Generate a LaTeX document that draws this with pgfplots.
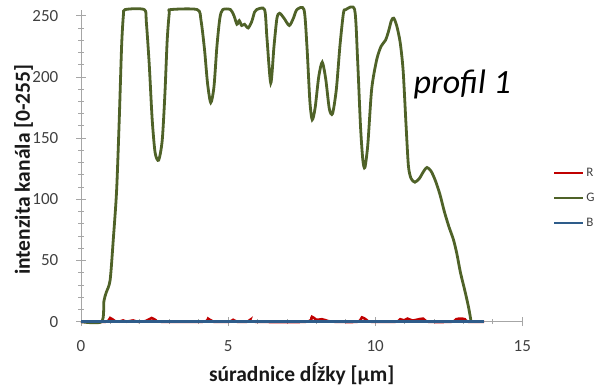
\documentclass[border=0pt]{standalone}
\usepackage{pgfplots}
\pgfplotsset{compat=1.18}
\usepackage{fontspec}
\setmainfont{Carlito}
\definecolor{gcol}{HTML}{4F6228}
\definecolor{rcol}{HTML}{C00000}
\definecolor{bcol}{HTML}{2E5C8A}
\definecolor{axcol}{HTML}{A6A6A6}
\definecolor{txtcol}{HTML}{404040}
\begin{document}
\begin{tikzpicture}[x=1pt,y=1pt]
\path[use as bounding box] (0,0) rectangle (598,387);
\begin{axis}[
  at={(81pt,65.3pt)}, anchor=south west,
  scale only axis, width=441.3pt, height=312.1pt,
  xmin=0, xmax=15, ymin=0, ymax=255,
  axis x line*=bottom, axis y line*=left,
  axis line style={axcol, line width=0.9pt, -},
  xtick={0,5,10,15}, ytick={0,50,100,150,200,250},
  minor x tick num=4, minor y tick num=4,
  tick align=center, major tick length=9pt, minor tick length=5pt,
  tick style={axcol, line width=0.8pt},
  /pgf/number format/assume math mode=true,
  ticklabel style={font=\fontsize{17}{18}\selectfont, text=txtcol},
  yticklabel style={anchor=east, inner sep=0pt, xshift=-18pt},
  xticklabel style={anchor=north, inner sep=0pt, yshift=-14pt},
  xlabel={\textbf{súradnice dĺžky [µm]}},
  ylabel={\textbf{intenzita kanála [0-255]}},
  label style={font=\fontsize{21.5}{23}\selectfont, text=black!90},
  xlabel style={at={([yshift=-59.5pt]axis description cs:0.5,0)}, anchor=base},
  ylabel style={at={([xshift=-51pt,yshift=-4pt]axis description cs:0,0.5)}, anchor=base},
  clip=false,
  legend style={at={(axis description cs:1.069,0.396)}, anchor=west,
    draw=none, fill=none, font=\fontsize{13}{14}\selectfont, text=txtcol,
    row sep=11pt, cells={anchor=west, inner sep=0.8pt}, inner sep=0pt},
  legend image code/.code={\draw[#1, line width=2.5pt] (0pt,0pt) -- (29pt,0pt);},
]
\addplot[rcol, line width=2.6pt, smooth, tension=0.5] coordinates {
(0,0) (0.85,0) (0.99,3) (1.15,0.5) (1.3,0) (1.43,1) (1.55,0) (1.77,1) (1.9,0)
(2.2,0.5) (2.4,3) (2.55,1) (2.7,0) (4.15,0) (4.32,2.5) (4.5,0) (5.05,0) (5.17,1.5)
(5.3,0) (5.65,0) (5.75,1.5) (5.9,0) (7.65,0) (7.85,4) (8.0,1.5) (8.19,2) (8.4,0.5)
(8.6,0) (9.4,0) (9.55,3.5) (9.7,1.5) (9.85,0) (10.7,0) (10.85,2) (10.98,1) (11.1,2.5)
(11.25,1) (11.4,1.5) (11.63,2.5) (11.8,0) (12.6,0) (12.75,2) (12.9,2.5) (13.05,2)
(13.15,0) (13.7,0)
};
\addlegendentry{R}
\addplot[gcol, line width=2.8pt, smooth, tension=0.45] coordinates {
(0,0) (0.70,0) (0.78,17) (0.86,24) (0.99,34) (1.10,68) (1.21,107) (1.30,165)
(1.38,225) (1.44,250) (1.50,255) (2.15,255) (2.22,245) (2.32,210) (2.42,165)
(2.52,138) (2.64,132) (2.76,148) (2.85,185) (2.93,230) (3.00,252) (3.05,255)
(3.95,255) (4.08,246) (4.20,222) (4.30,195) (4.41,179) (4.52,192) (4.62,225)
(4.72,248) (4.82,255) (5.08,255) (5.20,250) (5.30,243) (5.38,246) (5.46,242)
(5.56,243) (5.68,240) (5.80,245) (5.90,253) (5.97,255) (6.24,255) (6.32,232)
(6.45,195) (6.56,225) (6.66,248) (6.75,252) (6.90,248) (7.08,242) (7.22,248)
(7.34,255) (7.58,255) (7.68,225) (7.78,180) (7.86,165) (7.96,175) (8.08,200)
(8.20,212) (8.32,198) (8.44,174) (8.55,170) (8.68,190) (8.80,225) (8.92,252)
(9.00,255) (9.30,255) (9.40,215) (9.50,160) (9.58,132) (9.65,126) (9.75,145)
(9.88,190) (10.05,214) (10.20,225) (10.35,230) (10.45,237) (10.55,246) (10.63,248)
(10.73,242) (10.85,228) (10.95,205) (11.05,160) (11.13,127) (11.22,117) (11.35,114)
(11.50,117) (11.65,123) (11.76,126) (11.90,123) (12.05,115) (12.20,104) (12.35,90)
(12.50,78) (12.66,67) (12.78,55) (12.89,41) (13.00,30) (13.08,22) (13.18,11)
(13.26,0)
};
\addlegendentry{G}
\addplot[bcol, line width=2.6pt] coordinates {(0,0) (13.7,0)};
\addlegendentry{B}
\node[font=\fontsize{34}{36}\selectfont\itshape, text=black] at (axis cs:12.96,194) {profil 1};
\end{axis}
\end{tikzpicture}
\end{document}
